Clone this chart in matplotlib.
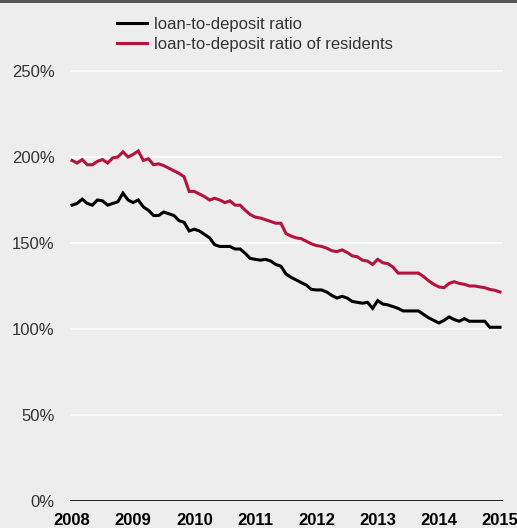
import numpy as np
import matplotlib
matplotlib.use("Agg")
import matplotlib.pyplot as plt
from matplotlib.lines import Line2D

plt.rcParams['font.family'] = ['Liberation Sans', 'DejaVu Sans']

# Monthly observations, January 2008 – January 2015 (per cent)
start_year = 2008
ratio_total = [
    172, 173, 175.5, 173, 172, 175, 174.5, 172, 173, 174, 179, 175,
    173.5, 175, 171, 169, 166, 166, 168, 167, 166, 163, 162, 157,
    158, 157, 155, 153, 149, 148, 148, 148, 146.5, 146.5, 144, 141,
    140.5, 140, 140.5, 139.5, 137.5, 136.5, 132, 130, 128.5, 127, 125.5, 123,
    122.7, 122.7, 121.5, 119.5, 118, 119, 118, 116, 115.5, 115, 115.5, 112,
    116.5, 114.5, 114, 113, 112, 110.5, 110.5, 110.5, 110.5, 108.5, 106.5, 105,
    103.5, 105, 107, 105.5, 104.5, 106, 104.5, 104.5, 104.5, 104.5, 101, 101,
    101,
]
ratio_residents = [
    198, 196.5, 198.5, 195.5, 195.5, 197.5, 198.5, 196.5, 199.5, 200, 203, 200,
    201.5, 203.5, 198, 199, 195.5, 196, 195, 193.5, 192, 190.5, 188.5, 180,
    180, 178.5, 177, 175, 176, 175, 173.5, 174.5, 172, 172, 169, 166.5,
    165, 164.5, 163.5, 162.5, 161.5, 161.5, 155.5, 154, 153, 152.5, 151, 149.5,
    148.5, 148, 147, 145.5, 145, 146, 144.5, 142.5, 142, 140, 139.5, 137.5,
    140.5, 138.5, 138, 136, 132.5, 132.5, 132.5, 132.5, 132.5, 130.5, 128, 126,
    124.5, 124, 126.5, 127.5, 126.5, 126, 125, 125, 124.5, 124, 123, 122.5,
    121.5,
]
series_labels = ["loan-to-deposit ratio", "loan-to-deposit ratio of residents"]
y_ticks = [0, 50, 100, 150, 200, 250]
x_years = list(range(2008, 2016))

BG = "#ecedec"
RED = "#b5123e"
TXT = "#333333"

W, H = 517, 528
fig = plt.figure(figsize=(W / 100, H / 100), dpi=100, facecolor=BG)

# axes geometry in pixels
ax_left, ax_right = 70, 503
y0_px, y250_px = 501, 71
ymax = 262
px_per_unit = (y0_px - y250_px) / 250
ax_top = y0_px - ymax * px_per_unit
ax = fig.add_axes([ax_left / W, (H - y0_px) / H, (ax_right - ax_left) / W,
                   (y0_px - ax_top) / H])
ax.set_facecolor(BG)

# x: 2008.0 at px 72, 2015.0 at px 500
px_per_year = (500 - 72) / 7
ax.set_xlim(2008 - (72 - ax_left) / px_per_year, 2015 + (ax_right - 500) / px_per_year)
ax.set_ylim(0, ymax)

t = start_year + np.arange(len(ratio_total)) / 12.0

for yv in y_ticks[1:]:
    ax.axhline(yv, color="white", lw=1.2, zorder=1)
ax.axhline(0, color="black", lw=1.2, zorder=3)

ax.plot(t, ratio_total, color="black", lw=2.2, zorder=4, solid_joinstyle="miter")
ax.plot(t, ratio_residents, color=RED, lw=2.2, zorder=4, solid_joinstyle="miter")

for s in ax.spines.values():
    s.set_visible(False)

ax.set_yticks(y_ticks)
ax.set_yticklabels([f"{v}%" for v in y_ticks], fontsize=12, color=TXT)
ax.set_xticks(x_years)
ax.set_xticklabels([str(y) for y in x_years], fontsize=12, fontweight="bold", color="black")
ax.tick_params(axis="both", length=0)
ax.tick_params(axis="y", pad=11)
ax.tick_params(axis="x", pad=8.5)

# legend
handles = [Line2D([], [], color="black", lw=2.2), Line2D([], [], color=RED, lw=2.2)]
fig.legend(handles, series_labels, loc="upper left",
           bbox_to_anchor=(117 / W, 1 - 17 / H), frameon=False, fontsize=12,
           handlelength=1.8, handletextpad=0.45, labelspacing=0.32,
           labelcolor=TXT, borderpad=0, borderaxespad=0)

# dark rule across the top
fig.add_artist(plt.Rectangle((0, 1 - 3 / H), 1, 3 / H, transform=fig.transFigure,
                             color="#555555", lw=0))

fig.savefig("out.png", dpi=100, facecolor=BG)
